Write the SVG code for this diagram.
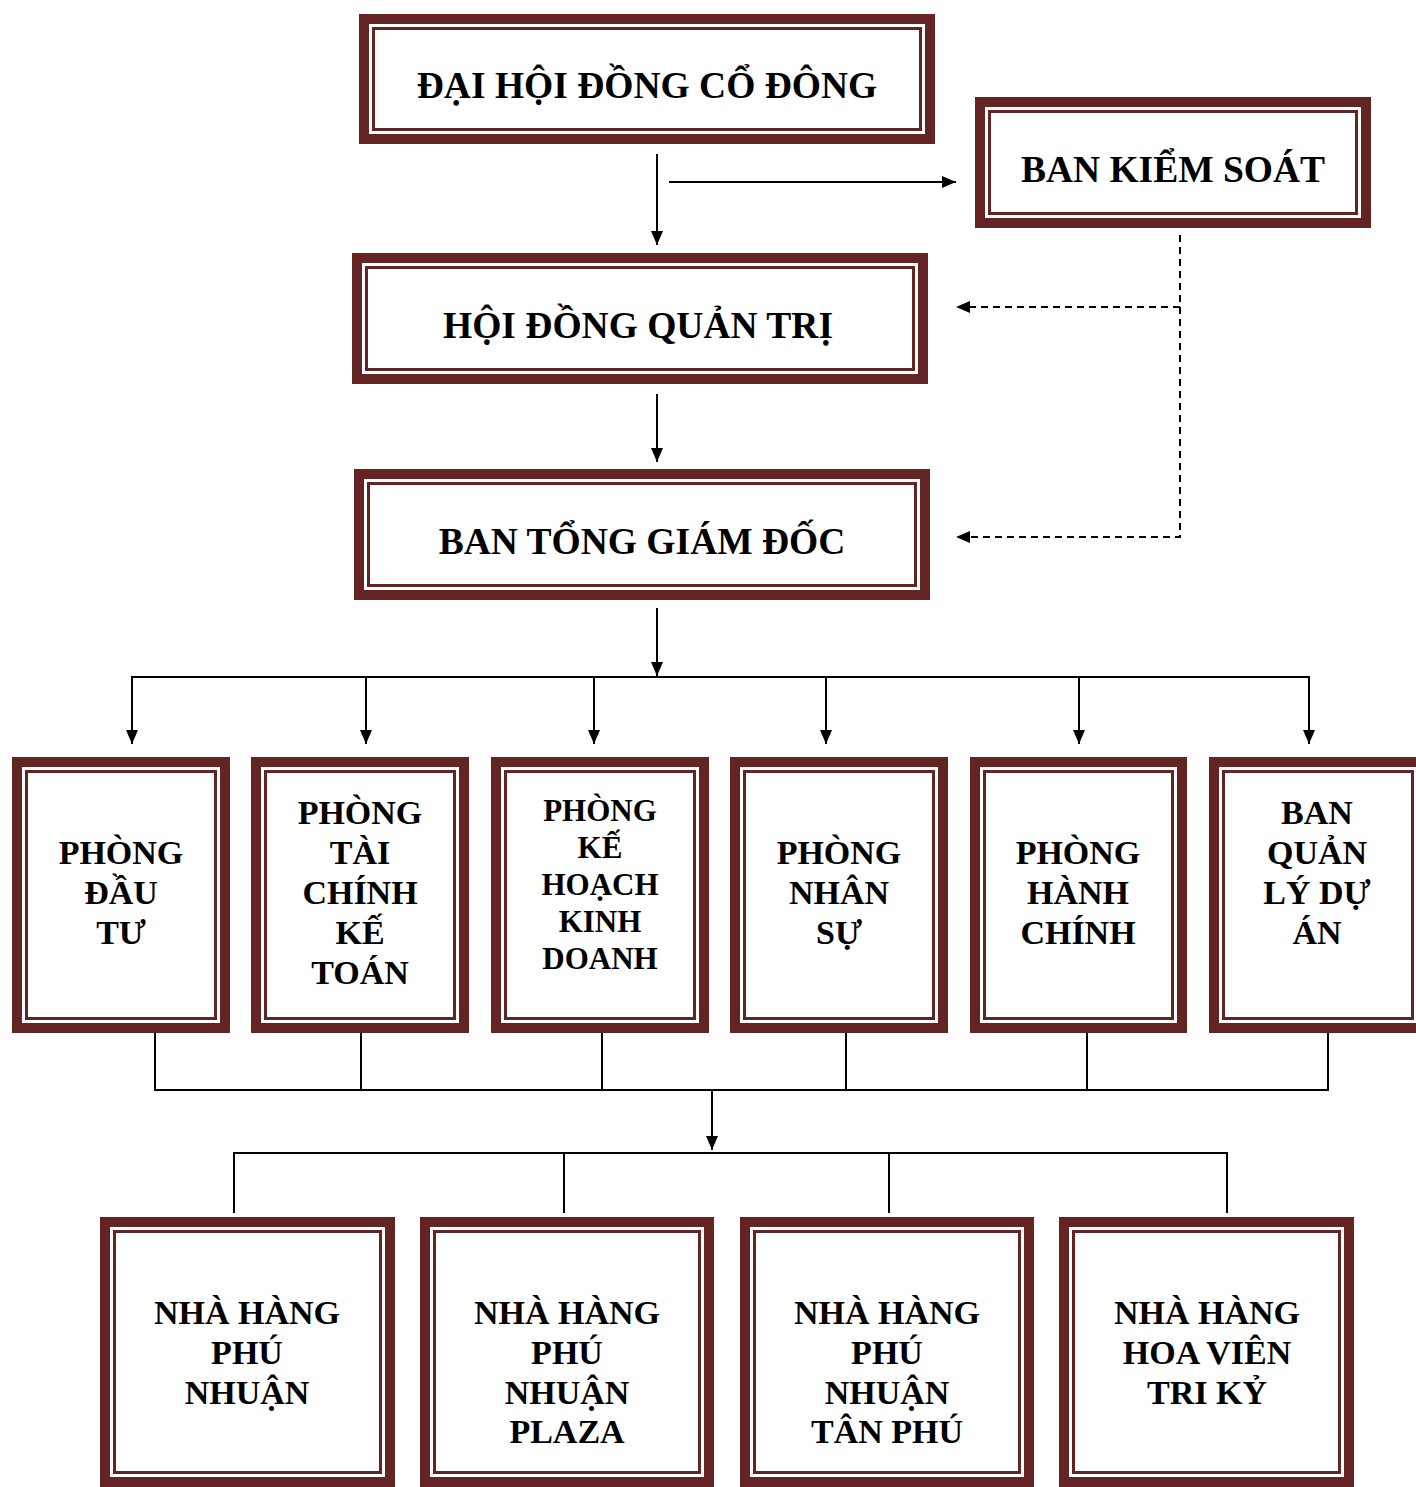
<svg xmlns="http://www.w3.org/2000/svg" width="1416" height="1487" viewBox="0 0 1416 1487">
<style>
.o{fill:#fff;stroke:#632423;stroke-width:10}
.i{fill:none;stroke:#632423;stroke-width:3}
.t{font-family:"Liberation Serif","Times New Roman",serif;font-weight:bold;fill:#000;text-anchor:middle}
.big{font-size:37.5px}
.mid{font-size:34px}
.sm{font-size:31px}
.ln{fill:none;stroke:#000;stroke-width:2}
.ds{fill:none;stroke:#000;stroke-width:2;stroke-dasharray:7,5}
</style>
<defs>
<marker id="ah" viewBox="0 0 14 12" refX="14" refY="6" markerWidth="14" markerHeight="12" markerUnits="userSpaceOnUse" orient="auto">
<path d="M0,0 L14,6 L0,12 Z" fill="#000"/>
</marker>
</defs>
<rect width="1416" height="1487" fill="#fff"/>

<g id="connectors">
<line class="ln" x1="657" y1="154" x2="657" y2="245" marker-end="url(#ah)"/>
<line class="ln" x1="669" y1="182" x2="956" y2="182" marker-end="url(#ah)"/>
<polyline class="ds" points="1180,235 1180,537 970,537"/>
<line class="ds" x1="1180" y1="307" x2="970" y2="307"/>
<path d="M956,307 L970,301 L970,313 Z" fill="#000"/>
<path d="M956,537 L970,531 L970,543 Z" fill="#000"/>
<line class="ln" x1="657" y1="394" x2="657" y2="462" marker-end="url(#ah)"/>
<line class="ln" x1="657" y1="608" x2="657" y2="676" marker-end="url(#ah)"/>
<polyline class="ln" points="132,744 132,677 1309,677 1309,744" marker-end="url(#ah)"/>
<line class="ln" x1="132" y1="677" x2="132" y2="744" marker-end="url(#ah)"/>
<line class="ln" x1="366" y1="677" x2="366" y2="744" marker-end="url(#ah)"/>
<line class="ln" x1="594" y1="677" x2="594" y2="744" marker-end="url(#ah)"/>
<line class="ln" x1="826" y1="677" x2="826" y2="744" marker-end="url(#ah)"/>
<line class="ln" x1="1079" y1="677" x2="1079" y2="744" marker-end="url(#ah)"/>
<polyline class="ln" points="155,1032 155,1090 1328,1090 1328,1032"/>
<line class="ln" x1="361" y1="1032" x2="361" y2="1090"/>
<line class="ln" x1="602" y1="1032" x2="602" y2="1090"/>
<line class="ln" x1="846" y1="1032" x2="846" y2="1090"/>
<line class="ln" x1="1087" y1="1032" x2="1087" y2="1090"/>
<line class="ln" x1="712" y1="1090" x2="712" y2="1150" marker-end="url(#ah)"/>
<polyline class="ln" points="234,1213 234,1153 1227,1153 1227,1213"/>
<line class="ln" x1="564" y1="1153" x2="564" y2="1213"/>
<line class="ln" x1="889" y1="1153" x2="889" y2="1213"/>
</g>

<g id="dhcd">
<rect class="o" x="364" y="19" width="566" height="120"/>
<rect class="i" x="373.5" y="28.5" width="547" height="101"/>
<text class="t big" x="647" y="98">ĐẠI HỘI ĐỒNG CỔ ĐÔNG</text>
</g>
<g id="bks">
<rect class="o" x="980" y="102" width="386" height="121"/>
<rect class="i" x="989.5" y="111.5" width="367" height="102"/>
<text class="t big" x="1173" y="182">BAN KIỂM SOÁT</text>
</g>
<g id="hdqt">
<rect class="o" x="357" y="258" width="566" height="121"/>
<rect class="i" x="366.5" y="267.5" width="547" height="102"/>
<text class="t big" x="638" y="338">HỘI ĐỒNG QUẢN TRỊ</text>
</g>
<g id="btgd">
<rect class="o" x="359" y="474" width="566" height="121"/>
<rect class="i" x="368.5" y="483.5" width="547" height="102"/>
<text class="t big" x="642" y="554">BAN TỔNG GIÁM ĐỐC</text>
</g>

<g id="p1">
<rect class="o" x="17" y="762" width="208" height="266"/>
<rect class="i" x="26.5" y="771.5" width="189" height="247"/>
<text class="t mid" x="121"><tspan x="121" y="864">PHÒNG</tspan><tspan x="121" y="904">ĐẦU</tspan><tspan x="121" y="944">TƯ</tspan></text>
</g>
<g id="p2">
<rect class="o" x="256" y="762" width="208" height="266"/>
<rect class="i" x="265.5" y="771.5" width="189" height="247"/>
<text class="t mid" x="360"><tspan x="360" y="824">PHÒNG</tspan><tspan x="360" y="864">TÀI</tspan><tspan x="360" y="904">CHÍNH</tspan><tspan x="360" y="944">KẾ</tspan><tspan x="360" y="984">TOÁN</tspan></text>
</g>
<g id="p3">
<rect class="o" x="496" y="762" width="208" height="266"/>
<rect class="i" x="505.5" y="771.5" width="189" height="247"/>
<text class="t sm" x="600"><tspan x="600" y="821">PHÒNG</tspan><tspan x="600" y="858">KẾ</tspan><tspan x="600" y="895">HOẠCH</tspan><tspan x="600" y="932">KINH</tspan><tspan x="600" y="969">DOANH</tspan></text>
</g>
<g id="p4">
<rect class="o" x="735" y="762" width="208" height="266"/>
<rect class="i" x="744.5" y="771.5" width="189" height="247"/>
<text class="t mid" x="839"><tspan x="839" y="864">PHÒNG</tspan><tspan x="839" y="904">NHÂN</tspan><tspan x="839" y="944">SỰ</tspan></text>
</g>
<g id="p5">
<rect class="o" x="975" y="762" width="207" height="266"/>
<rect class="i" x="984.5" y="771.5" width="188" height="247"/>
<text class="t mid" x="1078"><tspan x="1078" y="864">PHÒNG</tspan><tspan x="1078" y="904">HÀNH</tspan><tspan x="1078" y="944">CHÍNH</tspan></text>
</g>
<g id="p6">
<rect class="o" x="1214" y="762" width="208" height="266"/>
<rect class="i" x="1223.5" y="771.5" width="189" height="247"/>
<text class="t mid" x="1317"><tspan x="1317" y="824">BAN</tspan><tspan x="1317" y="864">QUẢN</tspan><tspan x="1317" y="904">LÝ DỰ</tspan><tspan x="1317" y="944">ÁN</tspan></text>
</g>

<g id="nh1">
<rect class="o" x="105" y="1222" width="285" height="260"/>
<rect class="i" x="114.5" y="1231.5" width="266" height="241"/>
<text class="t mid" x="247"><tspan x="247" y="1324">NHÀ HÀNG</tspan><tspan x="247" y="1364">PHÚ</tspan><tspan x="247" y="1404">NHUẬN</tspan></text>
</g>
<g id="nh2">
<rect class="o" x="425" y="1222" width="284" height="260"/>
<rect class="i" x="434.5" y="1231.5" width="265" height="241"/>
<text class="t mid" x="567"><tspan x="567" y="1324">NHÀ HÀNG</tspan><tspan x="567" y="1364">PHÚ</tspan><tspan x="567" y="1404">NHUẬN</tspan><tspan x="567" y="1443">PLAZA</tspan></text>
</g>
<g id="nh3">
<rect class="o" x="745" y="1222" width="284" height="260"/>
<rect class="i" x="754.5" y="1231.5" width="265" height="241"/>
<text class="t mid" x="887"><tspan x="887" y="1324">NHÀ HÀNG</tspan><tspan x="887" y="1364">PHÚ</tspan><tspan x="887" y="1404">NHUẬN</tspan><tspan x="887" y="1443">TÂN PHÚ</tspan></text>
</g>
<g id="nh4">
<rect class="o" x="1064" y="1222" width="285" height="260"/>
<rect class="i" x="1073.5" y="1231.5" width="266" height="241"/>
<text class="t mid" x="1207"><tspan x="1207" y="1324">NHÀ HÀNG</tspan><tspan x="1207" y="1364">HOA VIÊN</tspan><tspan x="1207" y="1404">TRI KỶ</tspan></text>
</g>
</svg>
